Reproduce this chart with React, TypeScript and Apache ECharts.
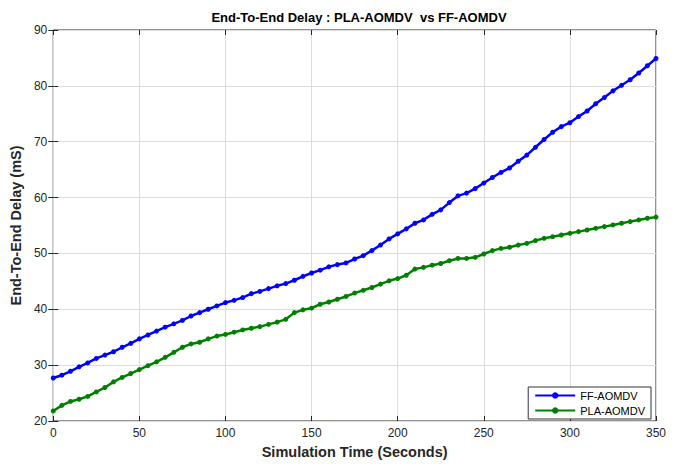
import React, { useEffect, useRef } from "react";
import * as echarts from "echarts";

const timeSeconds: number[] = [
  0, 5, 10, 15, 20, 25, 30, 35, 40, 45, 50, 55, 60, 65, 70, 75, 80, 85, 90, 95,
  100, 105, 110, 115, 120, 125, 130, 135, 140, 145, 150, 155, 160, 165, 170, 175,
  180, 185, 190, 195, 200, 205, 210, 215, 220, 225, 230, 235, 240, 245, 250, 255,
  260, 265, 270, 275, 280, 285, 290, 295, 300, 305, 310, 315, 320, 325, 330, 335,
  340, 345, 350,
];

const ffAomdv: number[] = [
  27.7, 28.2, 28.9, 29.7, 30.4, 31.2, 31.8, 32.4, 33.2, 33.9, 34.7, 35.4, 36.1,
  36.8, 37.4, 38.0, 38.8, 39.4, 40.0, 40.6, 41.2, 41.6, 42.1, 42.8, 43.2, 43.7,
  44.2, 44.6, 45.2, 45.9, 46.5, 47.0, 47.6, 48.0, 48.3, 49.0, 49.6, 50.5, 51.5,
  52.6, 53.5, 54.4, 55.4, 56.0, 57.0, 57.8, 59.1, 60.3, 60.8, 61.6, 62.6, 63.6,
  64.5, 65.3, 66.5, 67.6, 69.0, 70.4, 71.7, 72.7, 73.4, 74.5, 75.5, 76.8, 77.9,
  79.1, 80.1, 81.1, 82.3, 83.6, 84.9,
];

const plaAomdv: number[] = [
  21.8, 22.8, 23.5, 23.9, 24.4, 25.2, 26.0, 27.0, 27.8, 28.5, 29.2, 29.9, 30.6,
  31.4, 32.3, 33.2, 33.8, 34.1, 34.7, 35.2, 35.5, 35.9, 36.3, 36.6, 36.9, 37.3,
  37.7, 38.2, 39.4, 39.9, 40.2, 40.9, 41.3, 41.8, 42.3, 42.9, 43.4, 43.9, 44.5,
  45.1, 45.5, 46.1, 47.2, 47.5, 47.9, 48.2, 48.7, 49.1, 49.1, 49.3, 49.9, 50.5,
  50.9, 51.1, 51.5, 51.8, 52.3, 52.7, 53.0, 53.3, 53.6, 53.9, 54.2, 54.5, 54.8,
  55.1, 55.4, 55.7, 56.0, 56.3, 56.5,
];

const titleText = "End-To-End Delay : PLA-AOMDV  vs FF-AOMDV";
const xAxisName = "Simulation Time (Seconds)";
const yAxisName = "End-To-End Delay (mS)";

export default function App() {
  const ref = useRef<HTMLDivElement>(null);
  useEffect(() => {
    if (!ref.current) return;
    const chart = echarts.init(ref.current, null, { renderer: "svg" });
    const font = "'Liberation Sans', Arial, sans-serif";
    const tickLabel = { color: "#262626", fontSize: 12, fontFamily: font };
    const hiddenAxis = {
      axisLine: { show: false },
      axisTick: { show: true, inside: true, length: 5, lineStyle: { color: "#262626" } },
      axisLabel: { show: false },
      splitLine: { show: false },
    };
    const toPairs = (ys: number[]) => timeSeconds.map((t, i) => [t, ys[i]]);
    chart.setOption({
      animation: false,
      backgroundColor: "#ffffff",
      title: {
        text: titleText,
        left: 354,
        top: 6,
        textAlign: "center",
        textStyle: { fontSize: 13, fontWeight: "bold", color: "#000", fontFamily: font },
      },
      grid: {
        left: 52,
        right: 22,
        top: 30,
        bottom: 41,
        show: true,
        borderColor: "#262626",
        borderWidth: 1,
        backgroundColor: "#fff",
      },
      legend: {
        right: 27,
        bottom: 45,
        orient: "vertical",
        itemWidth: 40,
        itemHeight: 8,
        itemGap: 4,
        padding: [3, 6, 3, 6],
        borderColor: "#333",
        borderWidth: 1,
        backgroundColor: "#fff",
        textStyle: { fontSize: 11, color: "#000", fontFamily: font },
        data: ["FF-AOMDV", "PLA-AOMDV"],
      },
      xAxis: [
        {
          type: "value",
          min: 0,
          max: 350,
          interval: 50,
          name: xAxisName,
          nameLocation: "middle",
          nameGap: 23,
          nameTextStyle: { fontSize: 14.5, fontWeight: "bold", color: "#262626", fontFamily: font },
          axisLine: { show: false },
          axisTick: { show: true, inside: true, length: 5, lineStyle: { color: "#262626" } },
          axisLabel: { ...tickLabel, margin: 6 },
          splitLine: { show: true, lineStyle: { color: "#dcdcdc", width: 1 } },
        },
        { type: "value", position: "top", min: 0, max: 350, interval: 50, ...hiddenAxis },
      ],
      yAxis: [
        {
          type: "value",
          min: 20,
          max: 90,
          interval: 10,
          name: yAxisName,
          nameLocation: "middle",
          nameGap: 30,
          nameTextStyle: { fontSize: 14.5, fontWeight: "bold", color: "#262626", fontFamily: font },
          axisLine: { show: false },
          axisTick: { show: true, inside: true, length: 5, lineStyle: { color: "#262626" } },
          axisLabel: { ...tickLabel, margin: 6 },
          splitLine: { show: true, lineStyle: { color: "#dcdcdc", width: 1 } },
        },
        { type: "value", position: "right", min: 20, max: 90, interval: 10, ...hiddenAxis },
      ],
      series: [
        {
          name: "FF-AOMDV",
          type: "line",
          data: toPairs(ffAomdv),
          symbol: "circle",
          symbolSize: 5,
          color: "#0000ff",
          lineStyle: { width: 2.5, color: "#0000ff" },
          itemStyle: { color: "#0000ff" },
        },
        {
          name: "PLA-AOMDV",
          type: "line",
          data: toPairs(plaAomdv),
          symbol: "circle",
          symbolSize: 5,
          color: "#008000",
          lineStyle: { width: 2.5, color: "#008000" },
          itemStyle: { color: "#008000" },
        },
      ],
    });
    return () => chart.dispose();
  }, []);
  return <div ref={ref} style={{ width: 678, height: 464, position: "absolute", left: 0, top: 0 }} />;
}
